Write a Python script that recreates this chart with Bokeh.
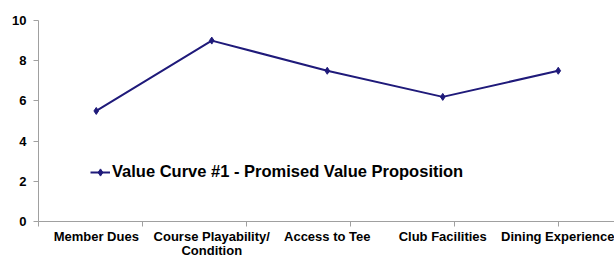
from bokeh.plotting import figure
from bokeh.models import FixedTicker, Legend, LegendItem
from bokeh.embed import file_html
from bokeh.resources import INLINE

categories = ["Member Dues", "Course Playability/\nCondition", "Access to Tee",
              "Club Facilities", "Dining Experience"]
values = [5.5, 9.0, 7.5, 6.2, 7.5]
series_name = "Value Curve #1 - Promised Value Proposition"
y_ticks = [0, 2, 4, 6, 8, 10]

xs = list(range(1, len(categories) + 1))

p = figure(width=614, height=260, output_backend="svg", toolbar_location=None,
           x_range=(0.5, 5.487), y_range=(0, 10),
           min_border_left=38, min_border_right=0, min_border_top=20, min_border_bottom=38)
p.outline_line_color = None
p.xgrid.visible = False
p.ygrid.visible = False
p.background_fill_color = "white"
p.border_fill_color = "white"

color = "#1f1a7a"
r_line = p.line(xs, values, line_color=color, line_width=2)
r_pts = p.scatter(xs, values, marker="diamond", size=7, fill_color=color, line_color=color)

font = "Liberation Sans"
xa = p.xaxis[0]
xa.ticker = FixedTicker(ticks=xs, minor_ticks=[0.5, 1.4, 2.3, 3.2, 4.1, 5.0])
xa.major_label_overrides = {x: c for x, c in zip(xs, categories)}
xa.major_tick_out = 0
xa.major_tick_in = 0
xa.minor_tick_out = 5
xa.minor_tick_in = 0
xa.minor_tick_line_color = "#a0a0a0"
xa.axis_line_color = "#a0a0a0"
xa.major_label_text_font = font
xa.major_label_text_font_style = "bold"
xa.major_label_text_font_size = "13px"
xa.major_label_text_color = "black"
xa.major_label_text_line_height = 0.95
xa.major_label_standoff = 2

ya = p.yaxis[0]
ya.ticker = FixedTicker(ticks=y_ticks)
ya.major_tick_out = 5
ya.major_tick_in = 0
ya.minor_tick_out = 0
ya.minor_tick_in = 0
ya.major_tick_line_color = "#a0a0a0"
ya.axis_line_color = "#a0a0a0"
ya.major_label_text_font = font
ya.major_label_text_font_style = "bold"
ya.major_label_text_font_size = "13px"
ya.major_label_text_color = "black"
ya.major_label_standoff = 7

legend = Legend(items=[LegendItem(label=series_name, renderers=[r_line, r_pts])],
                location=(52, 40), padding=0, margin=0, spacing=0,
                glyph_width=20, glyph_height=18, label_height=18, label_standoff=2,
                label_text_font=font, label_text_font_style="bold",
                label_text_font_size="16.5px", label_text_color="black",
                border_line_color=None, background_fill_alpha=0)
p.add_layout(legend)

open("out.html", "w").write(file_html(p, INLINE))
